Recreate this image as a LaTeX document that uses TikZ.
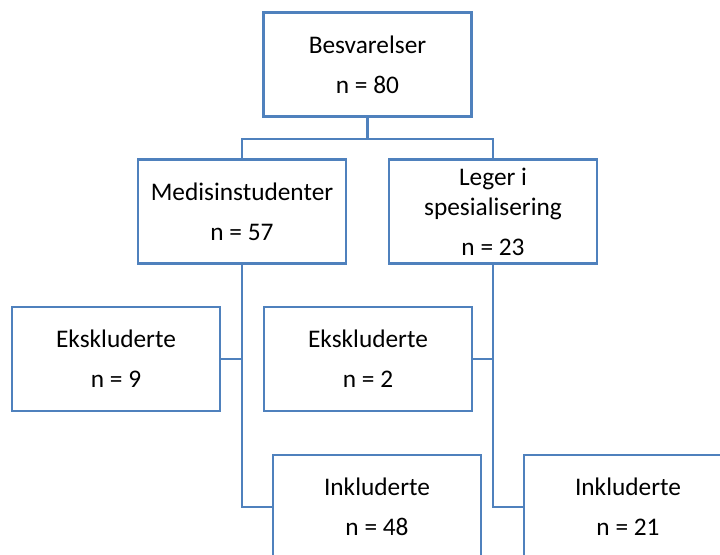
\documentclass[tikz,border=0pt]{standalone}
\usepackage{fontspec}
\setmainfont{Carlito}
\usetikzlibrary{positioning,calc}
\definecolor{boxblue}{HTML}{4F81BD}

\begin{document}
\begin{tikzpicture}[
  x=0.75pt, y=0.75pt,
  box/.style={draw=boxblue, line width=1.7pt, fill=white, minimum width=156pt, minimum height=78pt,
    inner sep=0pt, align=center, font=\fontsize{19}{22.5}\selectfont},
  conn/.style={draw=boxblue, line width=1.7pt},
]
% Canvas: 720 x 554 px, y counted from the top
\useasboundingbox (0,0) rectangle (720,554);
\begin{scope}
\clip (0,0) rectangle (720,554);
% Boxes
\node[box] (besv) at (367.5,554-64.5) {Besvarelser\\[7.5pt]n = 80};
\node[box] (med) at (242,554-211.5) {Medisinstudenter\\[7.5pt]n = 57};
\node[box] (leger) at (493,554-211.5) {Leger i\\spesialisering\\[7.5pt]n = 23};
\node[box] (eksL) at (116,554-359) {Ekskluderte\\[7.5pt]n = 9};
\node[box] (eksM) at (368,554-359) {Ekskluderte\\[7.5pt]n = 2};
\node[box] (inkL) at (377,554-507) {Inkluderte\\[7.5pt]n = 48};
\node[box] (inkR) at (628,554-507) {Inkluderte\\[7.5pt]n = 21};
% Connectors
\draw[conn] (besv.south) -- ++(0,-21.5) coordinate (split) -| (med.north);
\draw[conn] (split) -| (leger.north);
\draw[conn] (med.south) |- (inkL.west);
\draw[conn] (eksL.east) -- (eksL.east -| med.south);
\draw[conn] (leger.south) |- (inkR.west);
\draw[conn] (eksM.east) -- (eksM.east -| leger.south);
\end{scope}
\end{tikzpicture}
\end{document}
